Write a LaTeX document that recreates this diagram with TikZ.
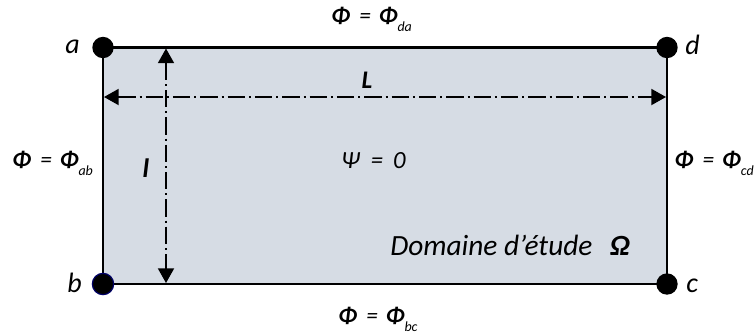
\documentclass[tikz,border=0pt]{standalone}
\usepackage{fontspec}
\setmainfont{Carlito}
\usetikzlibrary{arrows.meta}
\definecolor{domfill}{HTML}{D6DCE4}
\newcommand{\phisub}[1]{\textbf{\textit{Φ}}\hspace{0.4em}=\hspace{0.34em}\textbf{\textit{Φ}}\raisebox{-0.36em}{\fontsize{10.5}{11}\selectfont\itshape #1}}
\tikzset{
  corner/.style={circle,fill=black,inner sep=0pt,minimum size=16pt},
  lbl/.style={font=\fontsize{21}{24}\selectfont\itshape,inner sep=0pt},
  bnd/.style={font=\fontsize{17.5}{20}\selectfont\itshape,inner sep=0pt},
  dimline/.style={line width=1.4pt,dash pattern=on 13pt off 3pt on 1.5pt off 3pt,
    {Triangle[length=11pt,width=12pt]}-{Triangle[length=11pt,width=12pt]}}
}
\begin{document}
\begin{tikzpicture}[x=0.75pt,y=-0.75pt]
\useasboundingbox (0,0) rectangle (755,333);
\coordinate (A) at (103,47.5);
\coordinate (B) at (103,284);
\coordinate (C) at (667,284);
\coordinate (D) at (667,47.5);
\fill[domfill] (A) rectangle (C);
\draw[line width=1.6pt] (A) -- (B) -- (C) -- (D) -- cycle;
% dimension lines
\coordinate (Lw) at (104,97);
\coordinate (Le) at (666,97);
\coordinate (ln) at (166,48.5);
\coordinate (ls) at (166,283);
\draw[dimline] (Lw) -- (Le);
\draw[dimline] (ln) -- (ls);
% corners
\node[corner] (a) at (A) {};
\node[corner,draw=blue!40!black,line width=0.9pt] (b) at (B) {};
\node[corner] (c) at (C) {};
\node[corner] (d) at (D) {};
\node[lbl,anchor=base east] (ta) at (80,53) {a};
\node[lbl,anchor=base east] (tb) at (82,292) {b};
\node[lbl,anchor=base west] (tc) at (686,292) {c};
\node[lbl,anchor=base west] (td) at (685,54) {d};
% boundary labels
\node[bnd,anchor=base west] (pda) at (331,23) {\phisub{da}};
\node[bnd,anchor=base west] (pab) at (12,167) {\phisub{ab}};
\node[bnd,anchor=base east] (pcd) at (754,167) {\phisub{cd}};
\node[bnd,anchor=base west] (pbc) at (338,323) {\phisub{bc}};
% interior
\node[font=\fontsize{19}{22}\selectfont\bfseries\itshape,inner sep=0pt,anchor=base] (L) at (367,88) {L};
\node[font=\fontsize{20}{22}\selectfont\bfseries\itshape,inner sep=0pt,anchor=base] (l) at (146,177) {l};
\node[bnd,font=\fontsize{18.5}{20}\selectfont\itshape,anchor=base west] (psi) at (341,168) {Ψ\hspace{0.45em}=\hspace{0.4em}0};
\node[lbl,font=\fontsize{22}{24}\selectfont\itshape,anchor=base west] (dom) at (390,255) {Domaine d’étude\hspace{0.6em}\textbf{Ω}};
\end{tikzpicture}
\end{document}
